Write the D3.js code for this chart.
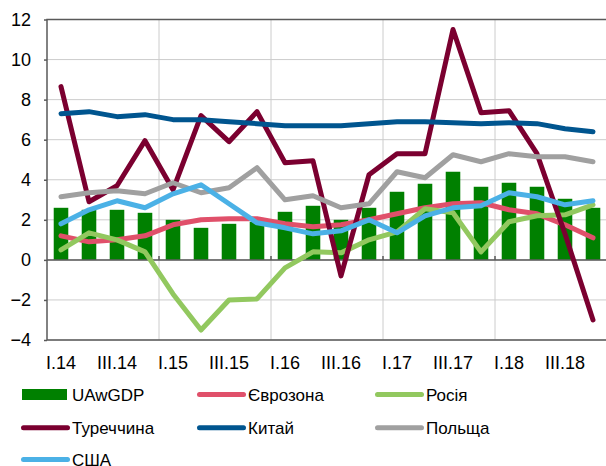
<!DOCTYPE html>
<html>
<head>
<meta charset="utf-8">
<script src="https://cdn.jsdelivr.net/npm/d3@7"></script>
<style>
  body { margin: 0; background: #fff; }
  svg text { font-family: "Liberation Sans", Arial, sans-serif; fill: #000; }
</style>
</head>
<body>
<svg id="chart" width="606" height="466"></svg>
<script>
// quarters I.14 .. IV.18
var quarters = ["I.14","II.14","III.14","IV.14","I.15","II.15","III.15","IV.15",
                "I.16","II.16","III.16","IV.16","I.17","II.17","III.17","IV.17",
                "I.18","II.18","III.18","IV.18"];
var tickLabels = ["I.14","III.14","I.15","III.15","I.16","III.16","I.17","III.17","I.18","III.18"];
var yTicks = [-4, -2, 0, 2, 4, 6, 8, 10, 12];

var uawgdp = [2.6,2.5,2.5,2.35,2.0,1.6,1.8,1.9,2.4,2.7,2.0,2.6,3.4,3.8,4.4,3.65,3.85,3.65,3.05,2.6];
var eurozone = [1.2,0.9,1.0,1.2,1.75,2.0,2.05,2.05,1.8,1.65,1.75,2.0,2.3,2.6,2.8,2.85,2.5,2.3,1.75,1.1];
var russia = [0.5,1.35,1.0,0.4,-1.7,-3.5,-2.0,-1.95,-0.4,0.4,0.35,1.0,1.4,2.55,2.35,0.4,1.9,2.2,2.25,2.75];
var turkey = [8.65,2.9,3.7,5.95,3.5,7.2,5.9,7.4,4.85,4.95,-0.8,4.25,5.3,5.3,11.5,7.35,7.45,5.3,1.3,-3.0];
var china = [7.3,7.4,7.15,7.25,7.0,7.0,6.9,6.8,6.7,6.7,6.7,6.8,6.9,6.9,6.85,6.8,6.85,6.8,6.55,6.4];
var poland = [3.15,3.35,3.45,3.3,3.85,3.35,3.6,4.6,3.0,3.2,2.6,2.8,4.4,4.1,5.25,4.9,5.3,5.15,5.15,4.9];
var usa = [1.8,2.5,2.95,2.6,3.3,3.75,2.8,1.85,1.6,1.3,1.45,2.0,1.35,2.2,2.6,2.7,3.35,3.15,2.75,2.95];

var lineSeries = [
  {name: "Єврозона", values: eurozone, color: "#e0506a"},
  {name: "Росія", values: russia, color: "#92c85f"},
  {name: "Туреччина", values: turkey, color: "#7b0030"},
  {name: "Китай", values: china, color: "#00558f"},
  {name: "Польща", values: poland, color: "#a0a0a0"},
  {name: "США", values: usa, color: "#4bb1e6"}
];

var svg = d3.select("#chart");
var pLeft = 47, pRight = 607, pTop = 19.5, pBottom = 340;

var x = d3.scaleBand().domain(quarters).range([pLeft, pRight])
  .paddingInner(0.48).paddingOuter(0.24);
var y = d3.scaleLinear().domain([-4, 12]).range([pBottom, pTop]);
var cx = function(i) { return x(quarters[i]) + x.bandwidth() / 2; };
var boundary = function(q) { return x(q) - x.step() * x.paddingInner() / 2; };

// horizontal grid
svg.append("g").selectAll("line").data(yTicks).enter()
  .append("line")
  .attr("x1", pLeft).attr("x2", pRight)
  .attr("y1", d => y(d)).attr("y2", d => y(d))
  .attr("stroke", "#cccccc").attr("stroke-width", 1);

// vertical grid every year
var yearStarts = quarters.filter((q, i) => i > 0 && i % 4 == 0);
svg.append("g").selectAll("line").data(yearStarts).enter()
  .append("line")
  .attr("x1", d => boundary(d)).attr("x2", d => boundary(d))
  .attr("y1", pTop).attr("y2", pBottom)
  .attr("stroke", "#cccccc").attr("stroke-width", 1);

// bars
svg.append("g").selectAll("rect").data(uawgdp).enter()
  .append("rect")
  .attr("x", (d, i) => x(quarters[i]))
  .attr("width", x.bandwidth())
  .attr("y", d => y(Math.max(0, d)))
  .attr("height", d => Math.abs(y(d) - y(0)))
  .attr("fill", "#008000");

// zero axis with small ticks at year boundaries
svg.append("line")
  .attr("x1", pLeft).attr("x2", pRight)
  .attr("y1", y(0)).attr("y2", y(0))
  .attr("stroke", "#595959").attr("stroke-width", 1.5);
svg.append("g").selectAll("line").data(yearStarts).enter()
  .append("line")
  .attr("x1", d => boundary(d)).attr("x2", d => boundary(d))
  .attr("y1", y(0)).attr("y2", y(0) - 4)
  .attr("stroke", "#595959").attr("stroke-width", 1.5);

// lines
var lnMkr = d3.line().x((d, i) => cx(i)).y(d => y(d));
lineSeries.forEach(function(s) {
  svg.append("path")
    .attr("d", lnMkr(s.values))
    .attr("fill", "none")
    .attr("stroke", s.color)
    .attr("stroke-width", 5)
    .attr("stroke-linejoin", "round")
    .attr("stroke-linecap", "round");
});

// frame
svg.append("rect")
  .attr("x", pLeft).attr("y", pTop)
  .attr("width", pRight - pLeft).attr("height", pBottom - pTop)
  .attr("fill", "none").attr("stroke", "#595959").attr("stroke-width", 1.5);

// y axis
var yAx = svg.append("g")
  .attr("transform", "translate(" + pLeft + ",0)")
  .call(d3.axisLeft(y).tickValues(yTicks).tickSize(3).tickPadding(13));
yAx.select(".domain").remove();
yAx.selectAll("line").attr("stroke", "#595959").attr("stroke-width", 1.5);
yAx.selectAll("text").style("font-size", "18px")
  .style("font-family", "'Liberation Sans', Arial, sans-serif").attr("fill", "#000");

// x labels
svg.append("g").selectAll("text").data(tickLabels).enter()
  .append("text")
  .attr("x", d => x(d) + x.bandwidth() / 2)
  .attr("y", 369)
  .attr("text-anchor", "middle")
  .style("font-size", "18px")
  .text(d => d);

// legend
var legendItems = [{name: "UAwGDP", color: "#008000", bar: true}].concat(lineSeries);
var colX = [22, 198, 376];
var rowY = [394.5, 427.7, 459.5];
var lg = svg.append("g").selectAll("g").data(legendItems).enter()
  .append("g")
  .attr("transform", (d, i) => "translate(" + colX[i % 3] + "," + rowY[Math.floor(i / 3)] + ")");
lg.filter(d => d.bar).append("rect")
  .attr("x", 0).attr("y", -5.5).attr("width", 45).attr("height", 11)
  .attr("fill", d => d.color);
lg.filter(d => !d.bar).append("line")
  .attr("x1", 1.5).attr("x2", 45.5).attr("y1", 0).attr("y2", 0)
  .attr("stroke", d => d.color).attr("stroke-width", 5)
  .attr("stroke-linecap", "round");
lg.append("text")
  .attr("x", 50).attr("y", 6)
  .style("font-size", "17px")
  .text(d => d.name);
</script>
</body>
</html>
